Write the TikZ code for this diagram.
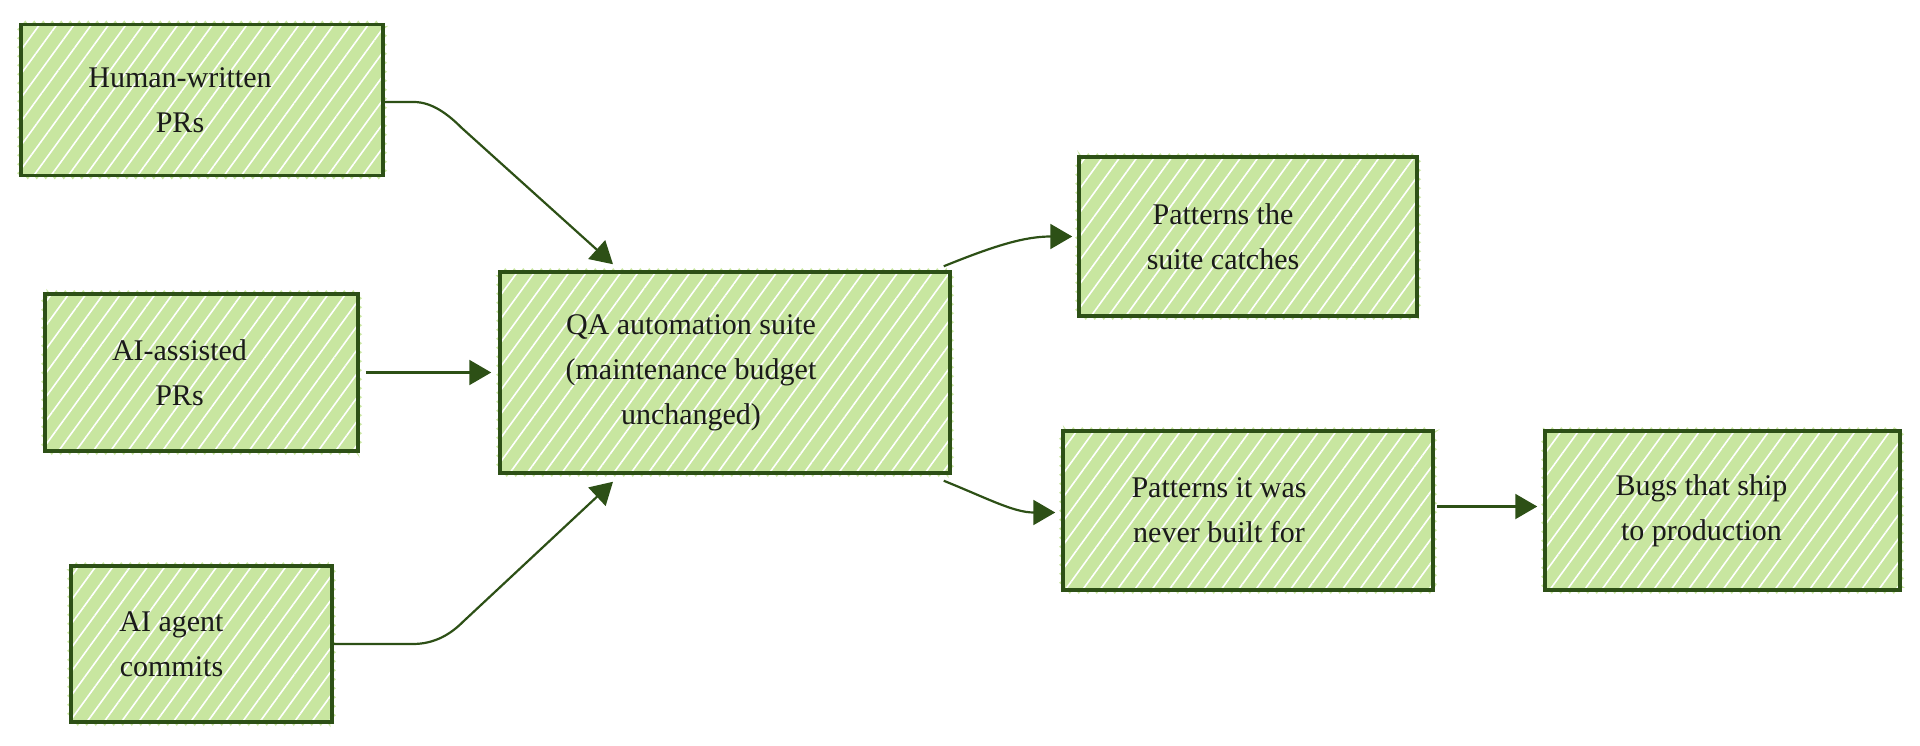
\documentclass[tikz,border=0pt]{standalone}
\usepackage{fontspec}
\setmainfont{Liberation Serif}
\usetikzlibrary{arrows.meta,patterns.meta,decorations.pathmorphing}
\definecolor{boxfill}{HTML}{C8E6A0}
\definecolor{boxline}{HTML}{2D5016}
\definecolor{txtcol}{HTML}{1A1A1A}
\tikzset{
  box/.style={draw=boxline, line width=3.5pt, rectangle, inner sep=0pt,
    preaction={draw=boxfill, line width=1.2pt, decorate,
      decoration={zigzag, segment length=9pt, amplitude=3pt}},
    preaction={fill=boxfill},
    pattern={Lines[angle=54,distance=14pt,line width=1.6pt]}, pattern color=white},
  txt/.style={align=center, text=txtcol, font=\fontsize{30}{45}\selectfont, inner sep=0pt},
  arr/.style={draw=boxline, line width=2.2pt, -{Triangle[length=22pt,width=25pt]}}
}
\begin{document}
\begin{tikzpicture}[x=1pt,y=-1pt]
\useasboundingbox (0,0) rectangle (1920,746);
% boxes
\node[box, minimum width=362pt, minimum height=151pt] (h) at (202,100) {};
\node[box, minimum width=313pt, minimum height=157pt] (a) at (201.5,372.5) {};
\node[box, minimum width=261pt, minimum height=156pt] (c) at (201.5,644) {};
\node[box, minimum width=450pt, minimum height=201pt] (q) at (725,372.5) {};
\node[box, minimum width=338pt, minimum height=159pt] (p1) at (1248,236.5) {};
\node[box, minimum width=370pt, minimum height=159pt] (p2) at (1248,510.5) {};
\node[box, minimum width=355pt, minimum height=159pt] (b) at (1722.5,510.5) {};
% texts
\node[txt] (ht) at ([xshift=-22pt]h.center) {Human-written\\PRs};
\node[txt] (at) at ([xshift=-22pt]a.center) {AI-assisted\\PRs};
\node[txt] (ct) at ([xshift=-30pt]c.center) {AI agent\\commits};
\node[txt] (qt) at ([xshift=-34pt]q.center) {QA automation suite\\(maintenance budget\\unchanged)};
\node[txt] (p1t) at ([xshift=-25pt]p1.center) {Patterns the\\suite catches};
\node[txt] (p2t) at ([xshift=-29pt]p2.center) {Patterns it was\\never built for};
\node[txt] (bt) at ([xshift=-21pt]b.center) {Bugs that ship\\to production};
% connectors
\coordinate (qtop) at ([xshift=-112pt,yshift=6pt]q.north);
\coordinate (qbot) at ([xshift=-112pt,yshift=-7pt]q.south);
\draw[arr] ([yshift=-2pt]h.east) -- ++(30,0) .. controls ++(18,0) and ++(-14,-14) .. ++(48,26) -- (qtop);
\draw[arr, shorten <=6pt, shorten >=7pt] (a.east) -- (q.west);
\draw[arr] (c.east) -- ++(79,0) .. controls ++(22,0) and ++(-12,12) .. ++(50,-22) -- (qbot);
\draw[arr, shorten >=5pt] ([xshift=-8pt,yshift=4pt]q.north east) to[out=22,in=180] (p1.west);
\draw[arr, shorten >=6pt] ([xshift=-8pt,yshift=-6pt]q.south east) to[out=-22,in=180] ([yshift=-2pt]p2.west);
\draw[arr, shorten <=2pt, shorten >=6pt] ([yshift=4pt]p2.east) -- ([yshift=4pt]b.west);
\end{tikzpicture}
\end{document}
